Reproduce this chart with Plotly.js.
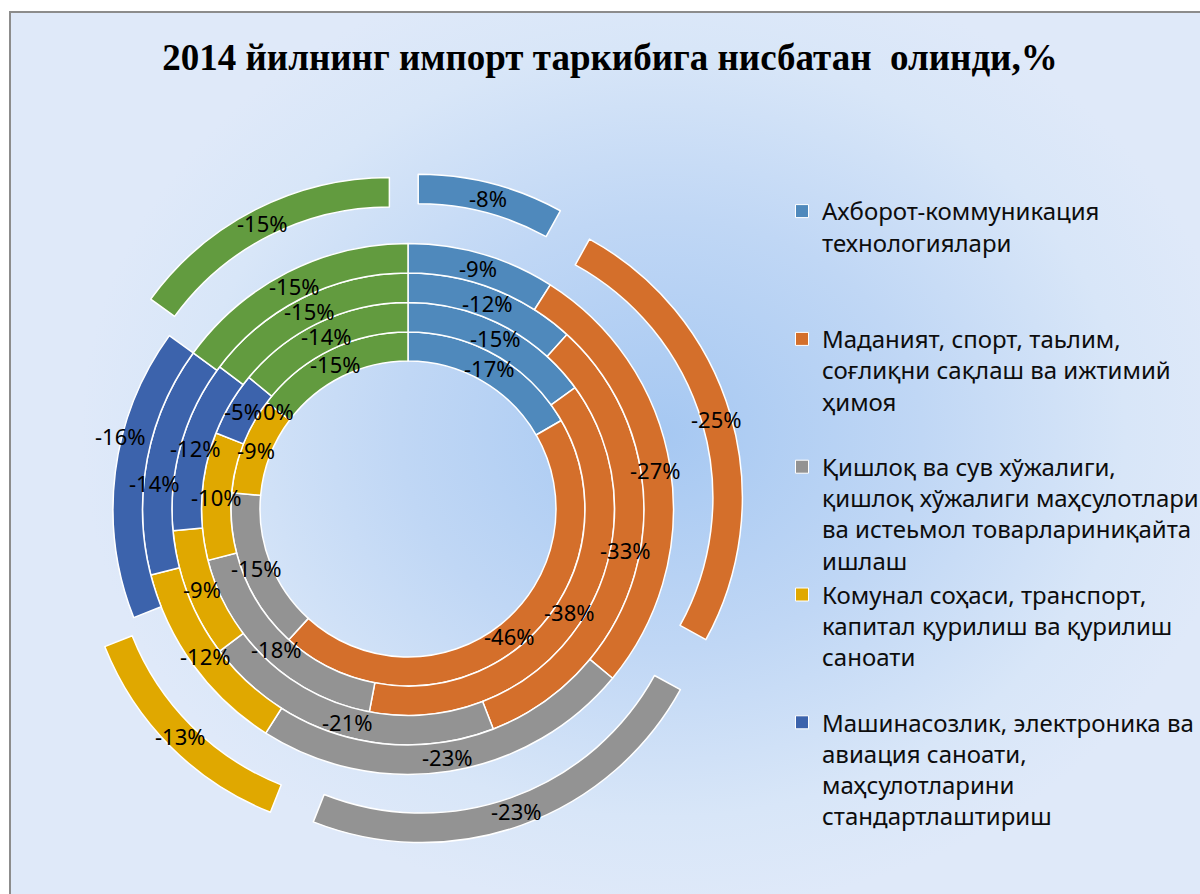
<!DOCTYPE html>
<html>
<head>
<meta charset="utf-8">
<script src="https://cdn.plot.ly/plotly-3.0.1.min.js"></script>
<style>
html,body{margin:0;padding:0;background:#ffffff;}
#wrap{position:absolute;left:0;top:0;width:1200px;height:894px;overflow:hidden;background:#ffffff;}
#bg{position:absolute;left:9px;top:11px;width:1200px;height:900px;border-left:2px solid #8c8c8c;border-top:2px solid #8c8c8c;
background:radial-gradient(ellipse 580px 480px at 650px 420px,#a6c8f2 0%,#c0d7f5 45%,#d8e6f8 80%,#dfe9f9 100%);}
#chart{position:absolute;left:0;top:0;width:1200px;height:894px;}
</style>
</head>
<body>
<div id="wrap"><div id="bg"></div><div id="chart"></div></div>
<script>
// ---------- data ----------
const categories = [
  "Ахборот-коммуникация технологиялари",
  "Маданият, спорт, таьлим, соғлиқни сақлаш ва ижтимий ҳимоя",
  "Қишлоқ ва сув хўжалиги, қишлоқ хўжалиги маҳсулотлари ва истеьмол товарлариниқайта ишлаш",
  "Комунал соҳаси, транспорт, капитал қурилиш ва қурилиш саноати",
  "Машинасозлик, электроника ва авиация саноати, маҳсулотларини стандартлаштириш",
  "Бошқалар"
];
const legendLines = [
  ["Ахборот-коммуникация", "технологиялари"],
  ["Маданият, спорт, таьлим,", "соғлиқни сақлаш ва ижтимий", "ҳимоя"],
  ["Қишлоқ ва сув хўжалиги,", "қишлоқ хўжалиги маҳсулотлари", "ва истеьмол товарлариниқайта", "ишлаш"],
  ["Комунал соҳаси, транспорт,", "капитал қурилиш ва қурилиш", "саноати"],
  ["Машинасозлик, электроника ва", "авиация саноати,", "маҳсулотларини", "стандартлаштириш"]
];
const colors = ["#4f89bc", "#d46f2b", "#939393", "#e0a800", "#3c63ac", "#629b3f"];
// rings from inner to outer (values in %)
const ring1 = [-17, -46, -15, -9, 0, -15];
const ring2 = [-15, -38, -18, -10, -5, -14];
const ring3 = [-12, -33, -21, -9, -12, -15];
const ring4 = [-9, -27, -23, -12, -14, -15];
const ring5 = [-8, -25, -23, -13, -16, -15];
const rings = [ring1, ring2, ring3, ring4, ring5];
// outer ring: which slices are exploded (the dark-blue one is not)
const outerExploded = [true, true, true, true, false, true];
const titleText = "2014 йилнинг импорт таркибига нисбатан  олинди,%";

// ---------- layout geometry (pixels) ----------
const W = 1200, H = 894;
const cx = 408, cy = 509;
const edges = [148, 177, 206.5, 236, 265.5, 295];
const outerPullPx = 41;
// manual label nudges present in the original (ring index, slice index, dx, dy in screen px)
const labelNudges = [[3, 4, -7, 21], [4, 4, -9, -38]];

const traces = [];
const annotations = [];

rings.forEach((vals, k) => {
  const rIn = edges[k], rOut = edges[k + 1];
  const isOuter = k === rings.length - 1;
  const pull = isOuter ? outerPullPx / rOut : 0;
  const s = rOut * (1 + pull);
  traces.push({
    type: 'pie',
    labels: categories,
    values: vals.map(v => Math.abs(v)),
    marker: {colors: colors, line: {color: '#ffffff', width: 1.5}},
    hole: rIn / rOut,
    sort: false,
    direction: 'clockwise',
    rotation: 0,
    pull: isOuter ? outerExploded.map(e => e ? pull : 0) : 0,
    textinfo: 'none',
    hovertemplate: '%{label}: %{customdata}%<extra></extra>',
    customdata: vals,
    showlegend: false,
    domain: {
      x: [(cx - s) / W, (cx + s) / W],
      y: [1 - (cy + s) / H, 1 - (cy - s) / H]
    }
  });
  // labels at the centre of each segment
  const total = vals.reduce((a, b) => a + Math.abs(b), 0);
  let cum = 0;
  vals.forEach((v, i) => {
    const frac = (cum + Math.abs(v) / 2) / total;
    cum += Math.abs(v);
    const th = frac * 2 * Math.PI;
    const r = (rIn + rOut) / 2 + (isOuter && outerExploded[i] ? outerPullPx : 0);
    const nudge = labelNudges.find(n => n[0] === k && n[1] === i) || [k, i, 0, 0];
    annotations.push({
      xref: 'x', yref: 'y',
      x: r * Math.sin(th), y: r * Math.cos(th),
      xshift: nudge[2], yshift: -nudge[3],
      text: v + '%', showarrow: false,
      xanchor: 'center', yanchor: 'middle',
      borderpad: 0,
      font: {family: 'Noto Sans, Open Sans, sans-serif', size: 22, color: '#000000'}
    });
  });
});

// legend entries (first five categories, as visible in the chart)
legendLines.forEach((lines, i) => {
  const padded = lines.slice();
  while (padded.length < 4) padded.push('\u00a0');
  traces.push({
    type: 'scatter', mode: 'markers',
    x: [null], y: [null],
    name: padded.join('<br>'),
    marker: {symbol: 'square', size: 13, color: colors[i], line: {color: '#ffffff', width: 1}},
    showlegend: true, hoverinfo: 'skip'
  });
});

const layout = {
  width: W, height: H,
  margin: {l: 0, r: 0, t: 0, b: 0, autoexpand: false},
  paper_bgcolor: 'rgba(0,0,0,0)',
  plot_bgcolor: 'rgba(0,0,0,0)',
  title: {
    text: '<b>' + titleText + '</b>',
    font: {family: 'Liberation Serif, Times New Roman, serif', size: 37, color: '#000000'},
    x: 610 / W, xref: 'paper', xanchor: 'center',
    y: 1 - 57 / H, yref: 'container', yanchor: 'middle'
  },
  xaxis: {visible: false, range: [-cx, W - cx], fixedrange: true},
  yaxis: {visible: false, range: [-(H - cy), cy], fixedrange: true},
  showlegend: true,
  legend: {
    x: 782 / W, xanchor: 'left',
    y: 1 - 189 / H, yanchor: 'top',
    bgcolor: 'rgba(0,0,0,0)',
    font: {family: 'Noto Sans, Open Sans, sans-serif', size: 24, color: '#0d0d0d'},
    valign: 'top',
    itemwidth: 30,
    traceorder: 'normal'
  },
  annotations: annotations
};

Plotly.newPlot('chart', traces, layout, {displayModeBar: false, staticPlot: true});
</script>
</body>
</html>
